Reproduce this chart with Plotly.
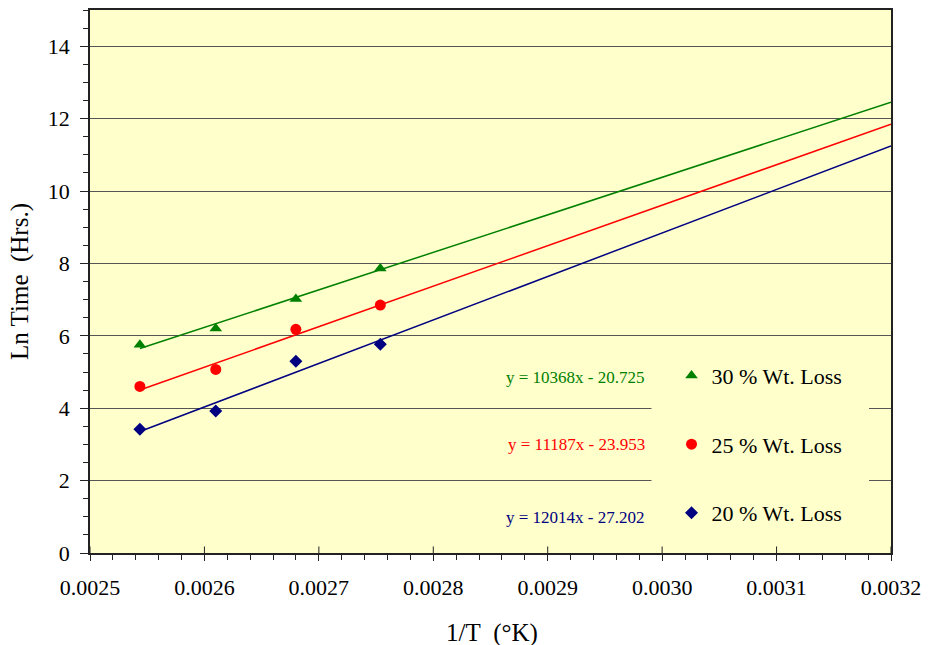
import numpy as np
import plotly.graph_objects as go

# Reciprocal absolute temperature (1/K) for 120, 110, 100 and 90 °C
inv_T = [0.0025436, 0.0026099, 0.0026799, 0.0027537]

# ln(time in hours) to reach each weight-loss level
ln_t_30 = [5.75, 6.20, 7.02, 7.86]
ln_t_25 = [4.60, 5.07, 6.18, 6.85]
ln_t_20 = [3.42, 3.92, 5.30, 5.77]

# Linear trendline coefficients (slope, intercept)
fit_30 = (10368, -20.725)
fit_25 = (11187, -23.953)
fit_20 = (12014, -27.202)

series_names = ["30 % Wt. Loss", "25 % Wt. Loss", "20 % Wt. Loss"]
series_colors = ["#008000", "#FF0000", "#000080"]
series_symbols = ["triangle-up", "circle", "diamond"]

x_min, x_end = 0.0025, 0.0032
x_major = 0.0001
font_family = "Liberation Serif, Times New Roman, serif"
axis_line = "#222222"

fig = go.Figure()

series = [
    (series_names[0], ln_t_30, fit_30, series_colors[0], series_symbols[0]),
    (series_names[1], ln_t_25, fit_25, series_colors[1], series_symbols[1]),
    (series_names[2], ln_t_20, fit_20, series_colors[2], series_symbols[2]),
]

# Trendlines drawn from the first data point out to the axis end
for name, ys, (m, b), color, sym in series:
    xs = np.array([inv_T[0], x_end])
    fig.add_trace(go.Scatter(
        x=xs, y=m * xs + b, mode="lines",
        line=dict(color=color, width=1.5),
        showlegend=False, hoverinfo="skip",
    ))

for i, (name, ys, (m, b), color, sym) in enumerate(series):
    fig.add_trace(go.Scatter(
        x=inv_T, y=ys, mode="markers", name=name,
        marker=dict(color=color, symbol=sym, size=11 if sym != "diamond" else 10),
        legendgroup=f"g{i}",
    ))

# Trendline equations
eq_y = [0.323, 0.200, 0.066]
for (name, ys, (m, b), color, sym), yy in zip(series, eq_y):
    fig.add_annotation(
        x=0.695, y=yy, xref="paper", yref="paper",
        xanchor="right", yanchor="middle", showarrow=False,
        text=f"y = {m}x - {abs(b):.3f}",
        font=dict(family=font_family, size=17, color=color),
    )

# x-axis title placed below the tick labels
fig.add_annotation(
    x=0.502, y=-0.147, xref="paper", yref="paper",
    xanchor="center", yanchor="middle", showarrow=False,
    text="1/T\u00a0\u00a0(°K)",
    font=dict(family=font_family, size=25, color="black"),
)

# Legend panel: plot-coloured block that hides the gridlines behind the key
fig.add_shape(
    type="rect", xref="paper", yref="paper",
    x0=0.701, x1=0.9726, y0=0.015, y1=0.36,
    fillcolor="#FFFFCC", line=dict(width=0), layer="above",
)

# Major x ticks cross the axis: add the part that reaches into the plot
for xv in np.arange(x_min, x_end + x_major / 2, x_major):
    fig.add_shape(
        type="line", xref="x", yref="paper",
        x0=xv, x1=xv, y0=0, y1=0.012,
        line=dict(color=axis_line, width=1),
    )

fig.update_layout(
    width=929, height=645,
    margin=dict(l=90, r=36, t=8, b=92),
    paper_bgcolor="white",
    plot_bgcolor="#FFFFCC",
    font=dict(family=font_family, size=22, color="black"),
    legend=dict(
        x=0.726, y=0.365, xanchor="left", yanchor="top",
        bgcolor="rgba(0,0,0,0)", borderwidth=0,
        font=dict(family=font_family, size=22),
        tracegroupgap=37,
        itemwidth=30,
    ),
    xaxis=dict(
        range=[x_min, x_end], dtick=x_major, tick0=x_min,
        tickformat=".4f", showgrid=False, zeroline=False,
        showline=True, linecolor=axis_line, linewidth=1.5, mirror=True,
        ticks="outside", ticklen=6, tickcolor=axis_line,
        ticklabelstandoff=8,
        minor=dict(dtick=0.00002, ticks="outside", ticklen=5, tickcolor=axis_line),
    ),
    yaxis=dict(
        range=[0, 15], dtick=2, tick0=0,
        showgrid=True, gridcolor="#555555", gridwidth=1,
        zeroline=False,
        showline=True, linecolor=axis_line, linewidth=1.5, mirror=True,
        ticks="outside", ticklen=8, tickcolor=axis_line,
        ticklabelstandoff=6,
        minor=dict(dtick=0.5, ticks="outside", ticklen=5, tickcolor=axis_line, showgrid=False),
        title=dict(text="Ln Time\u00a0\u00a0(Hrs.)", font=dict(size=25), standoff=12),
    ),
)

fig.write_html("out.html")
